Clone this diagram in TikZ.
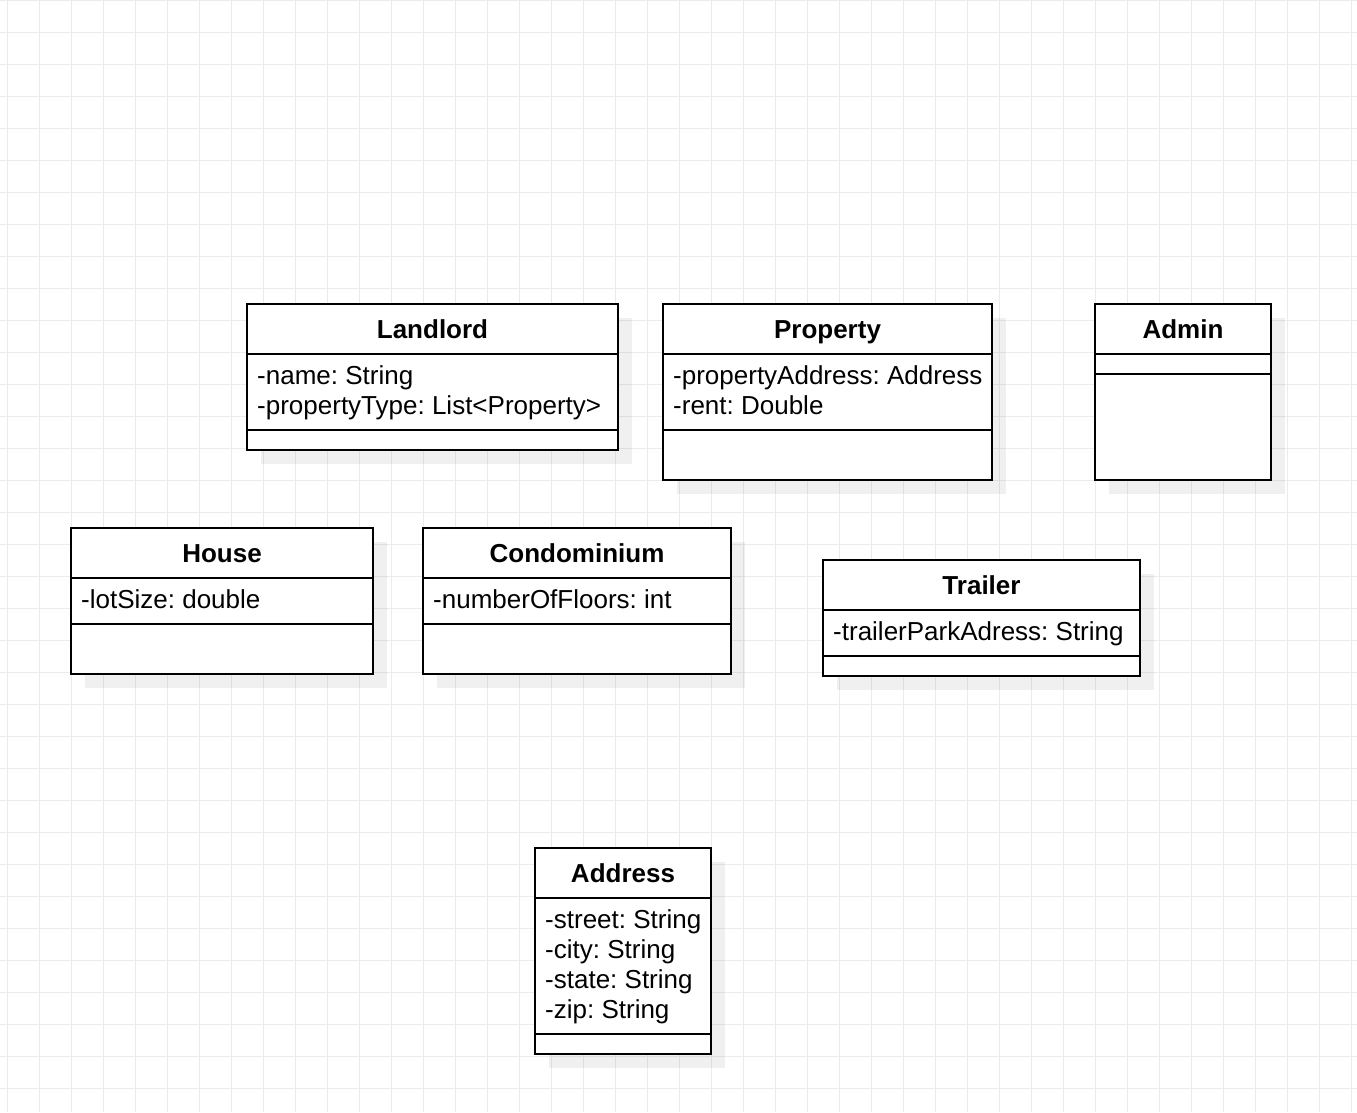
\documentclass[tikz,border=0pt]{standalone}
\usepackage{fontspec}
\setmainfont{Liberation Sans}
\frenchspacing
\definecolor{gridgray}{HTML}{EBEBEB}
\tikzset{
  gridline/.style={draw=gridgray, line width=1pt},
  shadowbox/.style={fill=black, fill opacity=0.06, draw=none},
  classbox/.style={draw=black, line width=2pt, fill=white, inner sep=0pt, outer sep=0pt},
  sepline/.style={draw=black, line width=2pt},
  titletext/.style={font=\fontsize{26}{30}\selectfont\bfseries, anchor=base, inner sep=0pt},
  attrtext/.style={font=\fontsize{26}{30}\selectfont\frenchspacing, anchor=base west, inner sep=0pt},
}
% #1 name, #2 x1, #3 y1, #4 x2, #5 y2, #6 divider1, #7 divider2, #8 title, #9 attributes
\newcommand{\umlclass}[9]{%
  \fill[shadowbox] (#2+14,#3+14) rectangle (#4+14,#5+14);
  \node[classbox, anchor=north west, minimum width={#4-#2}, minimum height={#5-#3}] (#1) at (#2,#3) {};
  \draw[sepline] (#2,#6) -- (#4,#6);
  \draw[sepline] (#2,#7) -- (#4,#7);
  \node[titletext] (#1-title) at ({(#2+#4)/2},#3+34) {#8};
  \node[attrtext] (#1-attrs) at (#2+10,#6+30) {\begin{tabular}[t]{@{}l@{}}#9\end{tabular}};
}
\begin{document}
\begin{tikzpicture}[x=1pt,y=-1pt]
  \fill[white] (0,0) rectangle (1357,1112);
  \useasboundingbox (0,0) rectangle (1357,1112);
  \foreach \x in {7,39,...,1351} \draw[gridline] (\x,0) -- (\x,1112);
  \foreach \y in {0,32,...,1104} \draw[gridline] (0,\y) -- (1357,\y);

  \umlclass{landlord}{247}{304}{618}{450}{354}{430}{Landlord}{-name: String\\-propertyType: List<Property>}
  \umlclass{property}{663}{304}{992}{480}{354}{430}{Property}{-propertyAddress: Address\\-rent: Double}
  \umlclass{admin}{1095}{304}{1271}{480}{354}{374}{Admin}{}
  \umlclass{house}{71}{528}{373}{674}{578}{624}{House}{-lotSize: double}
  \umlclass{condo}{423}{528}{731}{674}{578}{624}{Condominium}{-numberOfFloors: int}
  \umlclass{trailer}{823}{560}{1140}{676}{610}{656}{Trailer}{-trailerParkAdress: String}
  \umlclass{address}{535}{848}{711}{1054}{898}{1034}{Address}{-street: String\\-city: String\\-state: String\\-zip: String}
\end{tikzpicture}
\end{document}
